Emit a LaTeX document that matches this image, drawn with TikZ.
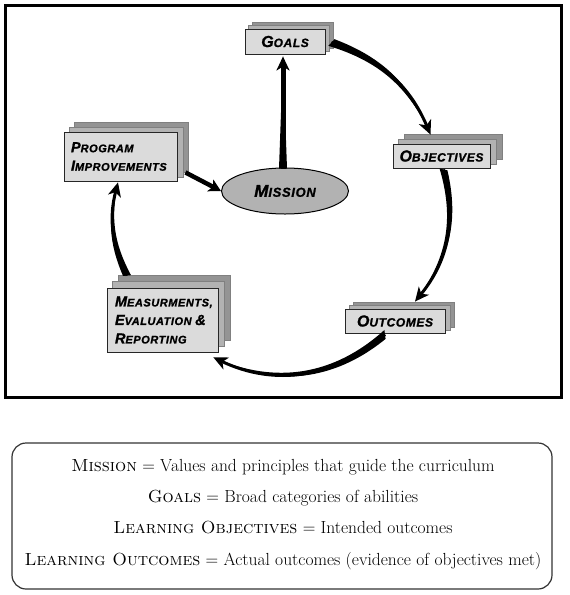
\documentclass[tikz,border=0pt]{standalone}
\usepackage{fontspec}
\newfontfamily\boxfont[LetterSpace=5, FakeBold=1.2]{Liberation Sans Bold Italic}
\usetikzlibrary{calc,arrows.meta,backgrounds,shapes.geometric}
\definecolor{frontc}{gray}{0.86}
\definecolor{midc}{gray}{0.70}
\definecolor{backc}{gray}{0.58}
\definecolor{ellc}{gray}{0.70}
\def\bigsz{16}\def\smsz{12}
\newcommand\bg[1]{{\fontsize{\bigsz}{18.5}\selectfont #1}}
\newcommand\sm[1]{{\fontsize{\smsz}{18.5}\selectfont #1}}
\newcommand\layers[3]{%
  \filldraw[fill=backc, draw=black!50, line width=0.4pt] ([shift={(#2,-#3)}]#1.south west) rectangle ([shift={(#2,-#3)}]#1.north east);
  \filldraw[fill=midc, draw=black!50, line width=0.4pt] ([shift={(#2/2,-#3/2)}]#1.south west) rectangle ([shift={(#2/2,-#3/2)}]#1.north east);}
\newcommand\comet[5][3pt]{%
  \fill ($(#2)!#5!90:(#3)$) to[bend left=#4] (#3) to[bend right=#4] ($(#2)!-#5!90:(#3)$) -- cycle;
  \draw[line width=#1, arrowtip] (#2) to[bend left=#4] (#3);}
\begin{document}
\begin{tikzpicture}[x=1pt,y=-1pt,
  frontbox/.style={draw=black!85, line width=0.9pt, fill=frontc, inner sep=0pt, font={\boxfont}},
  smallbox/.style={frontbox, align=left, font={\boxfont\fontsize{11}{18.5}\selectfont\def\bigsz{14.5}\def\smsz{11}}},
  arrowtip/.style={-{Stealth[length=14pt,width=13pt,inset=4pt]}},
  legend/.style={anchor=base, inner sep=0pt, font=\fontsize{17.5}{20}\selectfont}]
\useasboundingbox (0,0) rectangle (570,595);
\draw[line width=3pt] (5,5) rectangle (561,397);

\node[frontbox, minimum width=80, minimum height=25] (goals) at (285,41.5) {\bg{G}\sm{OALS}};
\node[frontbox, minimum width=97, minimum height=24] (obj) at (441.5,156) {\bg{O}\sm{BJECTIVES}};
\node[frontbox, minimum width=100, minimum height=24] (outc) at (395,321) {\bg{O}\sm{UTCOMES}};
\node[smallbox, minimum width=111, minimum height=64, text width=95] (meas) at (162.5,320)
  {\bg{M}\sm{EASURMENTS,}\\ \bg{E}\sm{VALUATION} \bg{\&}\\ \bg{R}\sm{EPORTING}};
\node[smallbox, minimum width=113, minimum height=49, text width=99] (prog) at (120.5,156.5)
  {\bg{P}\sm{ROGRAM}\\ \bg{I}\sm{MPROVEMENTS}};
\node[ellipse, draw, line width=1pt, fill=ellc, minimum width=127, minimum height=46, inner sep=0pt,
  font={\boxfont\def\bigsz{17}\def\smsz{13}}] (mission) at (285,191) {\bg{M}\sm{ISSION}};

\begin{scope}[on background layer]
  \layers{goals}{8}{6}
  \layers{obj}{12}{9}
  \layers{outc}{9}{6}
  \layers{meas}{12}{12}
  \layers{prog}{11}{9}
\end{scope}

\coordinate (g1) at ($(goals.east)+(6,1)$);
\coordinate (o0) at ($(obj.north)+(-11,-9)$);
\coordinate (o1) at ($(obj.south)+(2,1)$);
\coordinate (u0) at ($(outc.north)+(20,-7)$);
\coordinate (u1) at ($(outc.south)+(-10,1)$);
\coordinate (e0) at ($(meas.south east)+(-5,5)$);
\coordinate (e1) at ($(meas.north)+(-35.5,-12)$);
\coordinate (p0) at ($(prog.south)+(-2.5,1)$);
\coordinate (p1) at ($(prog.south east)+(8,-9)$);
\coordinate (m1) at ($(mission.north)+(-2,1)$);
\coordinate (g0) at ($(goals.south)+(-2,2)$);

\comet{g1}{o0}{24}{4.5pt}
\comet{o1}{u0}{27}{4pt}
\comet{u1}{e0}{33}{4.5pt}
\comet{e1}{p0}{20}{4pt}
\comet[5pt]{m1}{g0}{0}{4pt}
\draw[line width=4.5pt, -{Stealth[length=12pt,width=13pt,inset=3pt]}] (p1) -- (mission.west);

\draw[line width=1.2pt, rounded corners=14pt, draw=black!80] (12,443) rectangle (552,589);
\node[legend] (l1) at (283,471) {\textsc{Mission} = Values and principles that guide the curriculum};
\node[legend] (l2) at (283,502) {\textsc{Goals} = Broad categories of abilities};
\node[legend] (l3) at (283,533) {\textsc{Learning Objectives} = Intended outcomes};
\node[legend] (l4) at (283,565) {\textsc{Learning Outcomes} = Actual outcomes (evidence of objectives met)};
\end{tikzpicture}
\end{document}
